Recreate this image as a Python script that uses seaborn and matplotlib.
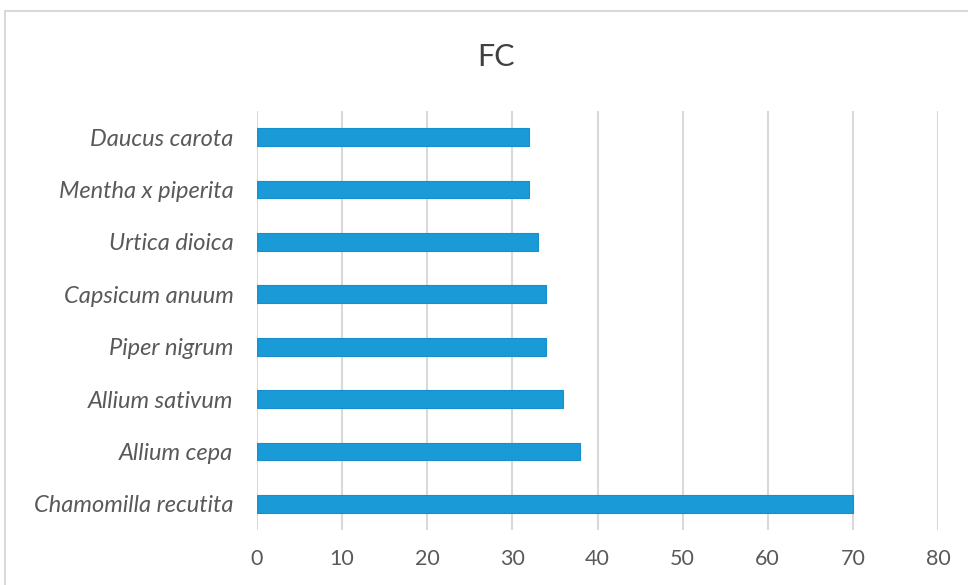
import seaborn as sns
import matplotlib.pyplot as plt
import pandas as pd
from matplotlib.patches import Rectangle

# data (top to bottom)
species = ["Daucus carota", "Mentha x piperita", "Urtica dioica", "Capsicum anuum",
           "Piper nigrum", "Allium sativum", "Allium cepa", "Chamomilla recutita"]
fc = [32, 32, 33, 34, 34, 36, 38, 70]
xticks = [0, 10, 20, 30, 40, 50, 60, 70, 80]

df = pd.DataFrame({"species": species, "FC": fc})

sns.set_style("white")
plt.rcParams["font.family"] = ["Lato", "DejaVu Sans"]

fig = plt.figure(figsize=(9.68, 5.85), dpi=100)
ax = fig.add_axes([257 / 968, 1 - 530 / 585, (938 - 257) / 968, (530 - 111) / 585])

sns.barplot(data=df, x="FC", y="species", color="#1a9ad6", saturation=1,
            width=0.34, edgecolor="#1590cc", linewidth=0.8, ax=ax, zorder=3)

ax.set_xlim(0, 80)
ax.set_xticks(xticks)
ax.set_ylim(7.5, -0.5)
ax.grid(axis="x", color="#d9d9d9", linewidth=1.5, zorder=0)
ax.grid(axis="y", visible=False)
for s in ax.spines.values():
    s.set_visible(False)
ax.tick_params(length=0)
ax.tick_params(axis="x", labelsize=15.5, colors="#595959", pad=14)
ax.tick_params(axis="y", labelsize=17, colors="#595959", pad=17)
for lab in ax.get_yticklabels():
    lab.set_fontstyle("italic")
ax.set_xlabel("")
ax.set_ylabel("")

fig.text(496 / 968, 1 - 57 / 585, "FC", ha="center", va="center",
         fontsize=22, color="#404040")

# chart frame like the spreadsheet chart area
fig.patches.append(Rectangle((5 / 968, -0.1), 1.1, 1 - 11 / 585 + 0.1,
                             transform=fig.transFigure, fill=False,
                             edgecolor="#d9d9d9", linewidth=1.5))

fig.savefig("out.png", dpi=100)
